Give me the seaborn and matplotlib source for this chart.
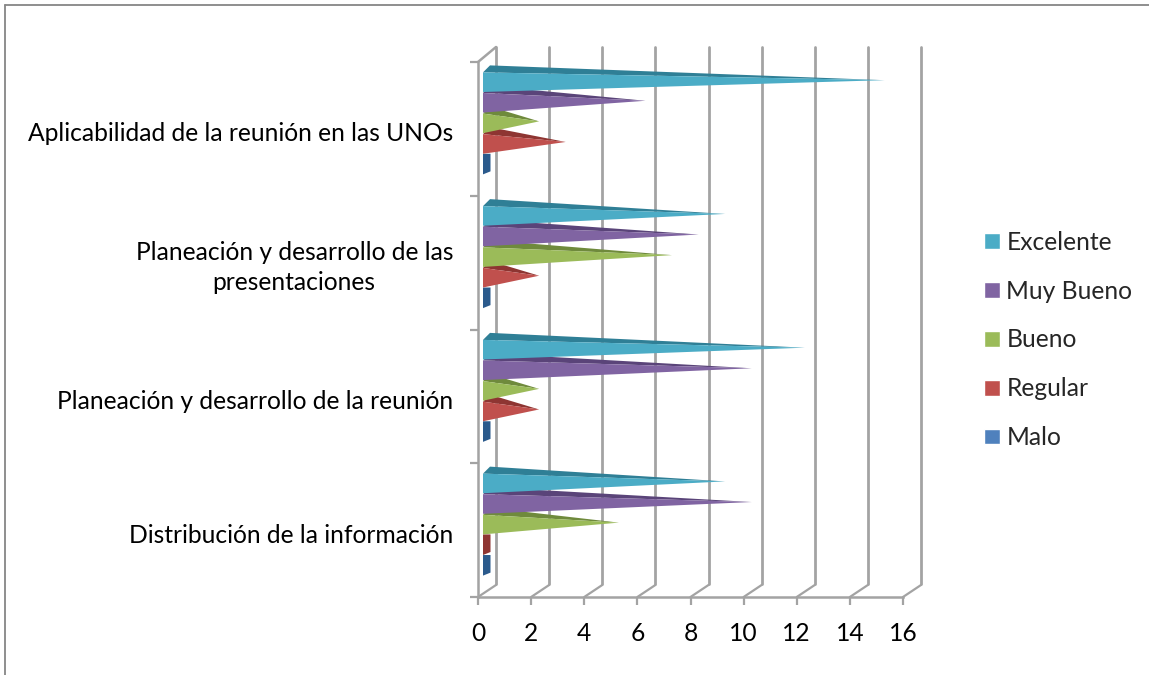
import matplotlib
matplotlib.use('Agg')
import pandas as pd
import seaborn as sns
import matplotlib.pyplot as plt
from matplotlib.lines import Line2D
from matplotlib.patches import Patch, Polygon
from matplotlib.transforms import ScaledTranslation

# Values, categories top to bottom
categories = ['Aplicabilidad de la reunión en las UNOs',
              'Planeación y desarrollo de las\npresentaciones',
              'Planeación y desarrollo de la reunión',
              'Distribución de la información']
series = ['Excelente', 'Muy Bueno', 'Bueno', 'Regular', 'Malo']
excelente = [15, 9, 12, 9]
muy_bueno = [6, 8, 10, 10]
bueno = [2, 7, 2, 5]
regular = [3, 2, 2, 0]
malo = [0, 0, 0, 0]
x_ticks = list(range(0, 17, 2))

colors = ['#4BACC6', '#8064A2', '#9BBB59', '#C0504D', '#4F81BD']
dark_colors = ['#2F7F96', '#5A4479', '#6F8A3C', '#8E3532', '#2B5A8C']
gray = '#A3A3A3'

W, H = 1149, 675
sns.set_style('white')
plt.rcParams['font.family'] = ['Lato', 'DejaVu Sans']
FS = 17.7

df = pd.DataFrame({'cat': categories * 5,
                   'serie': [s for s in series for _ in categories],
                   'val': excelente + muy_bueno + bueno + regular + malo})

fig = plt.figure(figsize=(W / 100, H / 100), dpi=100)
# axes = front plane of the fake 3D box, pixels 478-903 / 62-597
ax = fig.add_axes([478 / W, 1 - 597 / H, 425 / W, 535 / H])
sns.barplot(data=df, y='cat', x='val', hue='serie', order=categories, hue_order=series,
            palette=colors, orient='h', width=0.77, gap=0, legend=False, ax=ax)
ax.set_xlim(0, 16)
ax.set_ylim(3.5, -0.5)
ax.set_xlabel('')
ax.set_ylabel('')


def px_shift(dx, dy):
    return ScaledTranslation(dx / 100, -dy / 100, fig.dpi_scale_trans)


# back wall and floor lines
px_x = 1 / 26.56
px_y = 1 / 133.75
back = ax.transData + px_shift(18, -13)
for t in x_ticks:
    ax.plot([t, t], [3.5, -0.5 - 2 * px_y], color=gray, lw=2, transform=back, zorder=1, clip_on=False)
    ax.add_line(Line2D([t, t + 18 * px_x], [3.5, 3.5 - 12 * px_y], color=gray, lw=1.6,
                       clip_on=False, zorder=1))
ax.add_line(Line2D([0, 18 * px_x], [-0.5, -0.5 - 15 * px_y], color=gray, lw=1.8,
                   clip_on=False, zorder=1))

# turn each seaborn bar into a pyramid, keeping its position and length
bar_trans = ax.transData + px_shift(5, -6)
for cont, col, dark in zip(ax.containers, colors, dark_colors):
    for bar in cont:
        bar.set_visible(False)
        v = bar.get_width()
        y0, y1 = sorted([bar.get_y(), bar.get_y() + bar.get_height()])
        if v == 0:
            ax.add_patch(Polygon([(0, y0), (7.5 * px_x, y0), (7.5 * px_x, y1 - 3 * px_y), (0, y1)],
                                 facecolor=dark, edgecolor='none', transform=bar_trans,
                                 zorder=3, clip_on=False))
            continue
        tip = (v + 3 * px_x, (y0 + y1) / 2 - 1.5 * px_y)
        ax.add_patch(Polygon([(0, y0 + 1 * px_y), (7 * px_x, y0 - 6 * px_y), tip],
                             facecolor=dark, edgecolor='none', transform=bar_trans,
                             zorder=3, clip_on=False))
        ax.add_patch(Polygon([(0, y0 + 1 * px_y), (0, y1), tip], facecolor=col, edgecolor='none',
                             transform=bar_trans, zorder=4, clip_on=False))

# axes
for side in ['top', 'right']:
    ax.spines[side].set_visible(False)
for side in ['left', 'bottom']:
    ax.spines[side].set_color(gray)
    ax.spines[side].set_linewidth(1.8)

ax.set_xticks(x_ticks)
ax.set_xticklabels([str(t) for t in x_ticks], fontsize=FS, color='black')
ax.tick_params(axis='x', length=6, width=1.6, color=gray, pad=12, bottom=True)
ax.set_yticks([0, 1, 2, 3])
ax.set_yticklabels(categories, fontsize=FS, color='black', multialignment='center', linespacing=1.4)
ax.tick_params(axis='y', which='major', length=0, pad=18)
ax.set_yticks([-0.5, 0.5, 1.5, 2.5, 3.5], minor=True)
ax.tick_params(axis='y', which='minor', length=6, width=1.6, color=gray, left=True)
for i, lab in enumerate(ax.get_yticklabels()):
    lab.set_transform(lab.get_transform() + px_shift(0, -1 if i == 1 else 3))

handles = [Patch(facecolor=c, label=s) for c, s in zip(colors, series)]
fig.legend(handles=handles, loc='center left', bbox_to_anchor=(977 / W, 1 - 340 / H),
           frameon=False, fontsize=FS, handlelength=0.62, handleheight=0.62,
           handletextpad=0.28, labelspacing=1.05, borderpad=0.3, borderaxespad=0)

# chart area border
border = '#868686'
fig.add_artist(Line2D([5 / W, 5 / W], [0, 1 - 5 / H], color=border, lw=1.3))
fig.add_artist(Line2D([5 / W, 1], [1 - 5 / H, 1 - 5 / H], color=border, lw=1.3))

fig.savefig('out.png', dpi=100)
